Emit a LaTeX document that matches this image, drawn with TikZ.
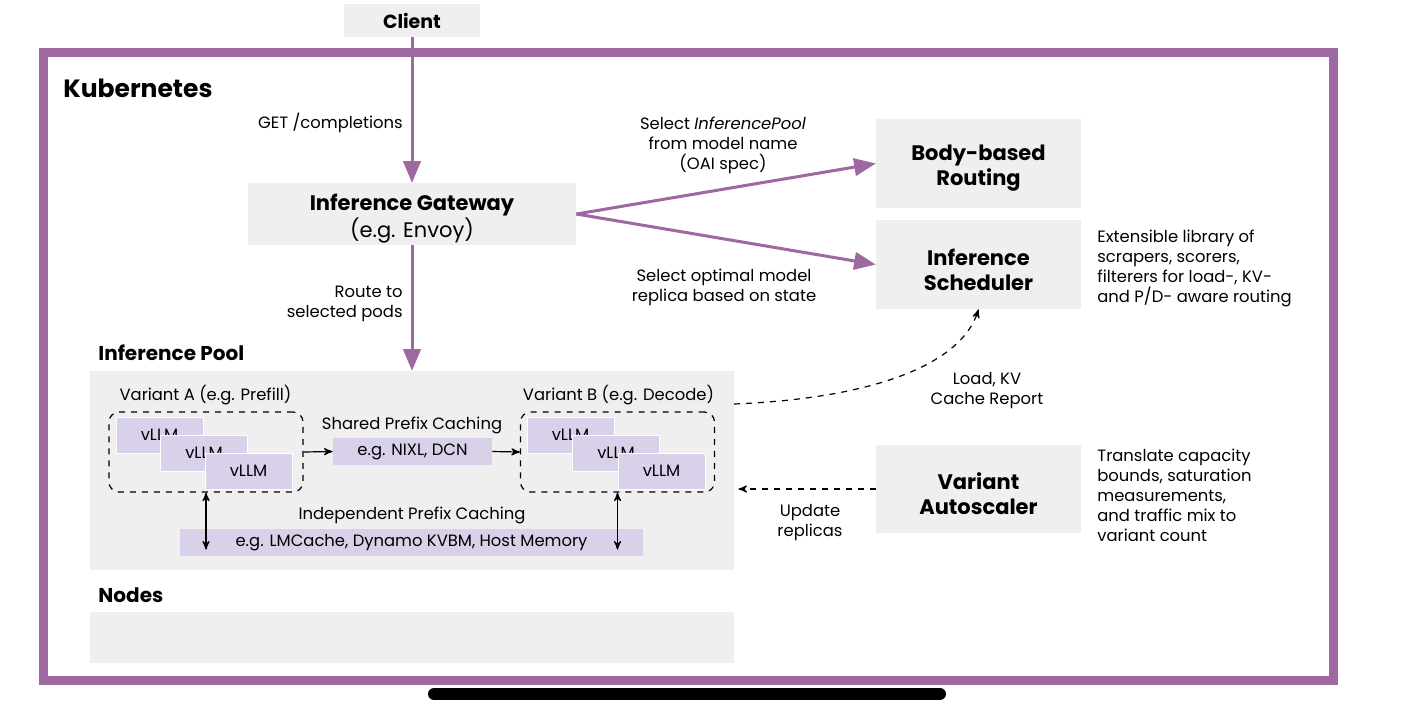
\documentclass[tikz,border=0pt]{standalone}
\usepackage{fontspec}
\setmainfont{Poppins}
\usepackage{xcolor}
\usetikzlibrary{arrows}
\usetikzlibrary{positioning}
\definecolor{kpurple}{HTML}{9E69A0}
\definecolor{boxgray}{HTML}{EFEFEF}
\definecolor{vllmfill}{HTML}{D9D1E9}
\tikzset{
  graybox/.style={fill=boxgray, inner sep=0pt},
  boxtext/.style={inner sep=0pt, align=center, yshift=-2.5pt, font=\fontsize{10.5}{12.5}\selectfont\bfseries},
  lbl/.style={inner sep=0pt, align=center, yshift=-1.25pt, font=\fontsize{8.2}{10}\selectfont},
  sidenote/.style={lbl, anchor=west, align=left},
  heading/.style={inner sep=0pt, anchor=west, font=\fontsize{10}{12}\selectfont\bfseries},
  variant/.style={draw, dashed, line width=0.6pt, rounded corners=5pt, minimum width=97pt, minimum height=40pt},
  vllm/.style={fill=vllmfill, draw=white, line width=0.3pt, inner sep=0pt, minimum width=43.5pt, minimum height=18pt, font=\fontsize{8.2}{10}\selectfont},
  cachebox/.style={fill=vllmfill, inner sep=0pt, minimum height=13.5pt, font=\fontsize{8.2}{10}\selectfont},
  flow/.style={kpurple, line width=1.5pt, -triangle 45},
  thin/.style={line width=0.6pt, >=stealth'}
}
\begin{document}
\begin{tikzpicture}[x=0.5pt, y=-0.5pt]
    \useasboundingbox (0,0) rectangle (1405,720);
    % Kubernetes frame
    \draw[kpurple, line width=4.5pt] (43,52) rectangle (1333,680);
    \node[inner sep=0pt, anchor=west, font=\fontsize{12.5}{15}\selectfont\bfseries] (k8s) at (63,88) {Kubernetes};
    % client and gateway
    \node[graybox, font=\fontsize{9.5}{11}\selectfont\bfseries, minimum width=68pt, minimum height=16.5pt] (client) at (412,20.5) {Client};
    \node[graybox, minimum width=164pt, minimum height=31pt] (gw) at (412,214) {};
    \node[boxtext] (gwtxt) at (gw) {Inference Gateway\\\mdseries (e.g. Envoy)};
    \node[lbl, anchor=east] (get) at (403,120) {GET /completions};
    \draw[flow] (client) -- (gw);
    % routing / scheduling
    \node[graybox, minimum width=102.5pt, minimum height=44.5pt] (bbr) at (978.5,163.5) {};
    \node[boxtext] (bbrtxt) at (bbr) {Body-based\\Routing};
    \node[graybox, minimum width=102.5pt, minimum height=44.5pt] (sched) at (978.5,264.5) {};
    \node[boxtext] (schedtxt) at (sched) {Inference\\Scheduler};
    \node[graybox, minimum width=102.5pt, minimum height=44pt] (auto) at (978.5,489) {};
    \node[boxtext] (autotxt) at (auto) {Variant\\Autoscaler};
    \draw[flow] (gw.east) -- (bbr.west);
    \draw[flow] (gw.east) -- (sched.west);
    \node[lbl] (selpool) at (723,143) {Select \textit{InferencePool}\\from model name\\(OAI spec)};
    \node[lbl] (selrep) at (724,285) {Select optimal model\\replica based on state};
    \node[sidenote] (schednote) at (1097,266) {Extensible library of\\scrapers, scorers,\\filterers for load-, KV-\\and P/D- aware routing};
    \node[sidenote] (autonote) at (1097,493) {Translate capacity\\bounds, saturation\\measurements,\\and traffic mix to\\variant count};
    % inference pool
    \node[heading] (poolhead) at (98,353) {Inference Pool};
    \node[graybox, minimum width=322pt, minimum height=99.5pt] (pool) at (412,470.5) {};
    \draw[flow] (gw) -- (pool);
    \node[lbl, align=right, anchor=east] (route) at (403,301) {Route to\\selected pods};
    \node[lbl] (varAlbl) at (205.5,393) {Variant A (e.g. Prefill)};
    \node[lbl] (varBlbl) at (618.5,393) {Variant B (e.g. Decode)};
    \node[variant] (varA) at (206,452) {};
    \node[variant] (varB) at (617.5,452) {};
    \foreach \i in {0,1,2} {
        \node[vllm] (vA\i) at (159.5+44.5*\i, 435+18*\i) {vLLM};
        \node[vllm] (vB\i) at (570.5+45.5*\i, 435+18*\i) {vLLM};
    }
    \node[lbl] (sharedlbl) at (412,423) {Shared Prefix Caching};
    \node[cachebox, minimum width=79.5pt] (nixl) at (412.5,451.5) {e.g. NIXL, DCN};
    \draw[thin, ->] (varA.east) -- (nixl.west);
    \draw[thin, ->] (nixl.east) -- (varB.west);
    \node[lbl] (indeplbl) at (412,513) {Independent Prefix Caching};
    \node[cachebox, minimum width=231.5pt] (lmc) at (411.5,542.5) {e.g. LMCache, Dynamo KVBM, Host Memory};
    \draw[thin, <->] (varA.south) -- ++(0,57);
    \draw[thin, <->] (varB.south) -- ++(0,57);
    % feedback loops
    \coordinate (kvout) at (734,404);
    \draw[thin, dashed, ->] (kvout) .. controls (880,398) and (962,362) .. (sched.south);
    \node[lbl] (kvlbl) at (987,388) {Load, KV\\Cache Report};
    \draw[thin, dashed, ->] (auto.west) -- ([xshift=2pt]auto.west -| pool.east);
    \node[lbl] (updlbl) at (810,520) {Update\\replicas};
    % nodes
    \node[heading] (nodeshead) at (98,595) {Nodes};
    \node[graybox, minimum width=322pt, minimum height=25.5pt] (nodes) at (412,637.5) {};
    % home bar
    \draw[line width=6pt, line cap=round] (434,694) -- (940,694);
\end{tikzpicture}
\end{document}
